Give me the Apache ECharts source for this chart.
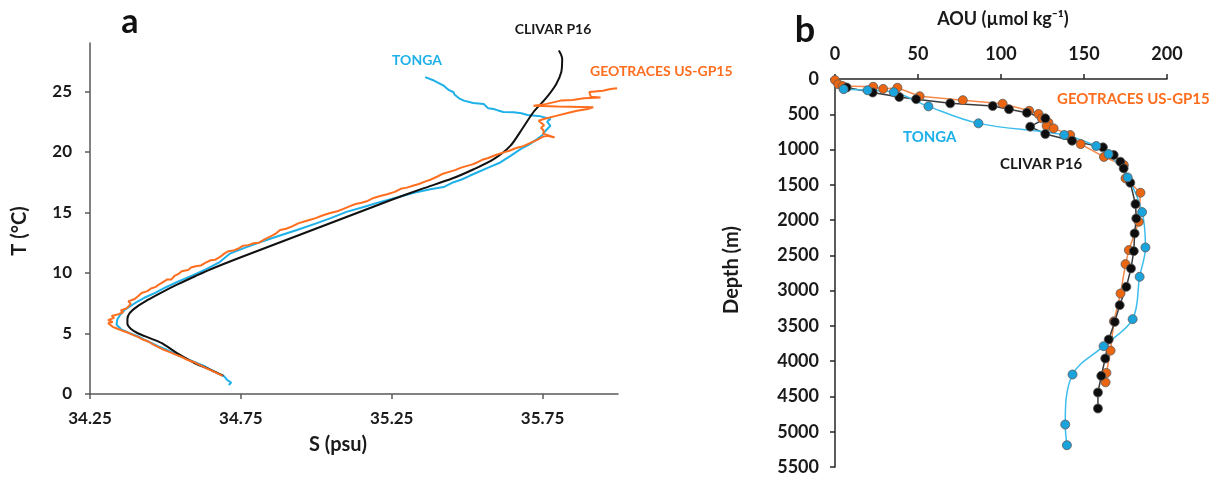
<!DOCTYPE html>
<html>
<head>
<meta charset="utf-8">
<title>T-S and AOU profiles</title>
<script src="https://cdn.jsdelivr.net/npm/echarts@6/dist/echarts.min.js"></script>
<style>
  html, body { margin: 0; padding: 0; background: #fff; }
  #chart { width: 1219px; height: 477px; }
</style>
</head>
<body>
<div id="chart"></div>
<script>
// panel a: [salinity (psu), temperature (°C)]
var tongaTS = [[34.71,0.75],[34.718,0.95],[34.705,1.15],[34.695,1.45],[34.66,1.85],[34.632,2.27],[34.6,2.6],[34.575,2.85],[34.543,3.2],[34.52,3.45],[34.5,3.7],[34.475,3.95],[34.455,4.2],[34.43,4.5],[34.41,4.75],[34.38,5.05],[34.355,5.31],[34.338,5.72],[34.34,6.13],[34.35,6.55],[34.366,6.97],[34.4,7.52],[34.43,7.95],[34.466,8.35],[34.5,8.8],[34.543,9.31],[34.59,9.8],[34.632,10.28],[34.68,10.9],[34.714,11.6],[34.76,12.05],[34.82,12.6],[34.88,13.1],[34.936,13.55],[35.0,14.1],[35.05,14.55],[35.1,15.05],[35.157,15.45],[35.21,15.85],[35.27,16.25],[35.32,16.6],[35.378,16.92],[35.422,17.1],[35.45,17.45],[35.48,17.7],[35.51,18.05],[35.533,18.3],[35.57,18.7],[35.61,19.13],[35.645,19.7],[35.677,20.23],[35.705,20.6],[35.732,21.06],[35.75,21.4],[35.76,21.75],[35.776,22.16],[35.765,22.5],[35.776,22.72],[35.743,22.94],[35.7,23.05],[35.68,23.2],[35.654,23.27],[35.62,23.3],[35.6,23.45],[35.588,23.55],[35.57,23.6],[35.555,23.96],[35.52,24.05],[35.489,24.24],[35.475,24.4],[35.465,24.6],[35.458,24.75],[35.455,24.93],[35.44,25.1],[35.43,25.3],[35.422,25.48],[35.39,25.9],[35.361,26.18]];
var clivarTS = [[34.692,1.52],[34.65,2.0],[34.598,2.54],[34.54,3.35],[34.488,4.2],[34.45,4.6],[34.41,5.0],[34.385,5.4],[34.374,5.8],[34.374,6.2],[34.382,6.7],[34.405,7.2],[34.44,7.75],[34.488,8.4],[34.54,9.05],[34.6,9.75],[34.654,10.35],[34.75,11.3],[34.85,12.25],[34.95,13.2],[35.05,14.15],[35.15,15.1],[35.25,16.05],[35.35,16.95],[35.45,17.8],[35.52,18.55],[35.588,19.4],[35.643,20.5],[35.685,22.0],[35.72,23.3],[35.76,24.4],[35.795,25.6],[35.812,26.6],[35.815,27.69],[35.804,28.38]];
var geotracesTS = [[34.69,1.5],[34.66,1.85],[34.63,2.2],[34.598,2.6],[34.57,2.85],[34.55,3.1],[34.53,3.3],[34.51,3.5],[34.49,3.7],[34.47,3.95],[34.455,4.15],[34.443,4.34],[34.425,4.5],[34.41,4.7],[34.39,4.9],[34.388,5.03],[34.37,5.12],[34.36,5.2],[34.355,5.31],[34.335,5.45],[34.325,5.55],[34.318,5.7],[34.31,5.85],[34.325,5.95],[34.31,6.1],[34.316,6.2],[34.33,6.3],[34.322,6.45],[34.345,6.6],[34.36,6.75],[34.352,6.9],[34.372,7.1],[34.368,7.25],[34.385,7.45],[34.377,7.65],[34.398,7.85],[34.41,8.1],[34.421,8.35],[34.44,8.5],[34.452,8.72],[34.468,8.85],[34.475,9.0],[34.488,9.18],[34.505,9.45],[34.52,9.47],[34.53,9.75],[34.545,9.95],[34.554,10.14],[34.575,10.25],[34.585,10.45],[34.6,10.55],[34.618,10.62],[34.632,10.84],[34.65,11.05],[34.665,11.1],[34.68,11.3],[34.695,11.6],[34.709,11.8],[34.725,11.85],[34.74,12.0],[34.758,12.25],[34.775,12.3],[34.79,12.45],[34.81,12.5],[34.83,12.8],[34.855,13.1],[34.868,13.3],[34.88,13.55],[34.9,13.65],[34.92,13.85],[34.94,14.1],[34.96,14.25],[34.98,14.4],[35.0,14.55],[35.02,14.75],[35.046,14.95],[35.07,15.1],[35.09,15.3],[35.11,15.5],[35.13,15.7],[35.15,15.8],[35.17,15.95],[35.19,16.2],[35.212,16.36],[35.235,16.5],[35.26,16.7],[35.28,16.95],[35.3,17.05],[35.32,17.2],[35.34,17.35],[35.36,17.55],[35.378,17.7],[35.4,17.95],[35.42,18.2],[35.44,18.35],[35.46,18.5],[35.48,18.7],[35.5,18.85],[35.515,18.95],[35.533,19.13],[35.55,19.35],[35.57,19.5],[35.595,19.75],[35.621,19.96],[35.64,20.1],[35.66,20.3],[35.675,20.4],[35.688,20.5],[35.71,20.75],[35.732,21.0],[35.75,21.25],[35.765,21.34],[35.79,21.2],[35.752,21.5],[35.754,21.75],[35.745,22.0],[35.755,22.2],[35.737,22.58],[35.754,22.72],[35.798,23.0],[35.83,23.2],[35.864,23.41],[35.9,23.55],[35.918,23.69],[35.8,23.75],[35.72,23.82],[35.76,23.95],[35.81,24.24],[35.85,24.3],[35.887,24.43],[35.942,24.5],[35.91,24.55],[35.905,24.95],[35.95,25.05],[35.975,25.2],[35.997,25.27]];

// panel b: [AOU (umol/kg), depth (m)]
var geotracesAOU = [[0,15],[2,75],[4.6,100],[23,110],[29,140],[37.6,123],[51,245],[77,300],[101,350],[117,450],[122.6,496],[124.6,558],[128.6,620],[127.5,665],[131.7,700],[141.7,794],[148,922],[162,1105],[174,1220],[175,1409],[184,1612],[183,2024],[177,2425],[175,2624],[172,3040],[168,3435],[166,3850],[163.5,4166],[163,4300]];
var clivarAOU = [[7,120],[22.7,192],[38.7,255],[48.9,286],[69.4,345],[95,383],[104.8,428],[115.6,478],[126.7,558],[117.6,676],[126.7,780],[142.8,875],[161.4,969],[167.9,1078],[171.9,1173],[173.9,1267],[177.9,1471],[181,1773],[181.5,1976],[180.5,2189],[180,2440],[178.3,2686],[175.5,2946],[171.5,3206],[168.5,3443],[164.9,3693],[162.8,3962],[160.4,4208],[158.4,4444],[158.4,4671]];
var tongaAOU = [[5.2,144],[19.6,160],[35.4,187],[56.3,388],[86.4,629],[138.1,794],[157.4,950],[164.8,1064],[176.3,1395],[185,1887],[187,2388],[183.5,2804],[179.3,3404],[161.8,3787],[143.1,4189],[138.7,4898],[139.7,5191]];

var sTicks = [34.25, 34.75, 35.25, 35.75];
var tTicks = [0, 5, 10, 15, 20, 25];

var FONT = 'Lato, "Open Sans", sans-serif';
var BLUE = '#1EB0E8', ORANGE = '#FF6E1F', BLACK = '#111111';

var chart = echarts.init(document.getElementById('chart'));

function label(text, x, y, color, size, align, rot) {
  return {
    type: 'text', x: x, y: y, rotation: rot || 0,
    style: { text: text, fill: color, font: 'bold ' + size + 'px ' + FONT,
             align: align || 'center', verticalAlign: 'middle' }
  };
}

function plain(v) { return String(v); }

chart.setOption({
  animation: false,
  grid: [
    { left: 90, top: 43, width: 528, height: 351 },
    { left: 835, top: 79, width: 332, height: 388 }
  ],
  xAxis: [{
    gridIndex: 0, type: 'value', min: 34.25, max: 36.0, interval: 0.5,
    splitLine: { show: false },
    axisLine: { lineStyle: { color: '#595959', width: 1.5 } },
    axisTick: { customValues: sTicks, length: 5, lineStyle: { color: '#595959', width: 1.5 } },
    axisLabel: { customValues: sTicks, margin: 16, color: '#1a1a1a', fontSize: 17, fontWeight: 'bold', fontFamily: FONT }
  }, {
    gridIndex: 1, type: 'value', position: 'top', min: 0, max: 200, interval: 50,
    splitLine: { show: false },
    axisLine: { lineStyle: { color: '#262626', width: 1.5 } },
    axisTick: { length: 5, lineStyle: { color: '#262626', width: 1.5 } },
    axisLabel: { margin: 16, color: '#1a1a1a', fontSize: 18, fontWeight: 'bold', fontFamily: FONT, formatter: plain }
  }],
  yAxis: [{
    gridIndex: 0, type: 'value', min: 0, max: 29, interval: 5,
    splitLine: { show: false },
    axisLine: { show: true, lineStyle: { color: '#595959', width: 1.5 } },
    axisTick: { show: true, customValues: tTicks, length: 5, lineStyle: { color: '#595959', width: 1.5 } },
    axisLabel: { customValues: tTicks, margin: 18, color: '#1a1a1a', fontSize: 17, fontWeight: 'bold', fontFamily: FONT }
  }, {
    gridIndex: 1, type: 'value', inverse: true, min: 0, max: 5500, interval: 500,
    splitLine: { show: false },
    axisLine: { show: true, lineStyle: { color: '#262626', width: 1.5 } },
    axisTick: { show: true, length: 5, lineStyle: { color: '#262626', width: 1.5 } },
    axisLabel: { margin: 16, color: '#1a1a1a', fontSize: 18, fontWeight: 'bold', fontFamily: FONT, formatter: plain }
  }],
  series: [
    { name: 'TONGA', type: 'line', xAxisIndex: 0, yAxisIndex: 0, data: tongaTS,
      showSymbol: false, lineStyle: { color: BLUE, width: 2 } },
    { name: 'CLIVAR P16', type: 'line', xAxisIndex: 0, yAxisIndex: 0, data: clivarTS,
      smooth: 0.3, showSymbol: false, lineStyle: { color: BLACK, width: 2 } },
    { name: 'GEOTRACES US-GP15', type: 'line', xAxisIndex: 0, yAxisIndex: 0, data: geotracesTS,
      showSymbol: false, lineStyle: { color: ORANGE, width: 2 } },

    { name: 'GEOTRACES US-GP15 AOU', type: 'line', xAxisIndex: 1, yAxisIndex: 1, data: geotracesAOU,
      symbol: 'circle', symbolSize: 9,
      lineStyle: { color: '#F4894A', width: 1.5 },
      itemStyle: { color: '#EC6511', borderColor: '#5a5a5a', borderWidth: 0.8 } },
    { name: 'CLIVAR P16 AOU', type: 'line', xAxisIndex: 1, yAxisIndex: 1, data: clivarAOU,
      symbol: 'circle', symbolSize: 9,
      lineStyle: { color: '#3a3a3a', width: 1.5 },
      itemStyle: { color: '#0d0d0d', borderColor: '#5a5a5a', borderWidth: 0.8 } },
    { name: 'TONGA AOU', type: 'line', xAxisIndex: 1, yAxisIndex: 1, data: tongaAOU,
      smooth: 0.35, symbol: 'circle', symbolSize: 9,
      lineStyle: { color: '#3DBDED', width: 1.5 },
      itemStyle: { color: '#1BA3DC', borderColor: '#5a5a5a', borderWidth: 0.8 } }
  ],
  graphic: [
    label('a', 130, 22, '#111', 34),
    label('b', 805, 30, '#111', 36),
    label('T (°C)', 20, 231, '#1a1a1a', 20, 'center', Math.PI / 2),
    label('S (psu)', 338, 445, '#1a1a1a', 20),
    label('Depth (m)', 732, 270, '#1a1a1a', 20, 'center', Math.PI / 2),
    label('AOU (µmol kg⁻¹)', 1003, 19, '#1a1a1a', 18),
    label('CLIVAR P16', 553, 29, '#1a1a1a', 14),
    label('TONGA', 417, 60, BLUE, 14),
    label('GEOTRACES US-GP15', 590, 71, ORANGE, 14, 'left'),
    label('GEOTRACES US-GP15', 1057, 99, ORANGE, 15, 'left'),
    label('TONGA', 903, 137, BLUE, 15, 'left'),
    label('CLIVAR P16', 1000, 164, '#1a1a1a', 15, 'left')
  ]
});
</script>
</body>
</html>
